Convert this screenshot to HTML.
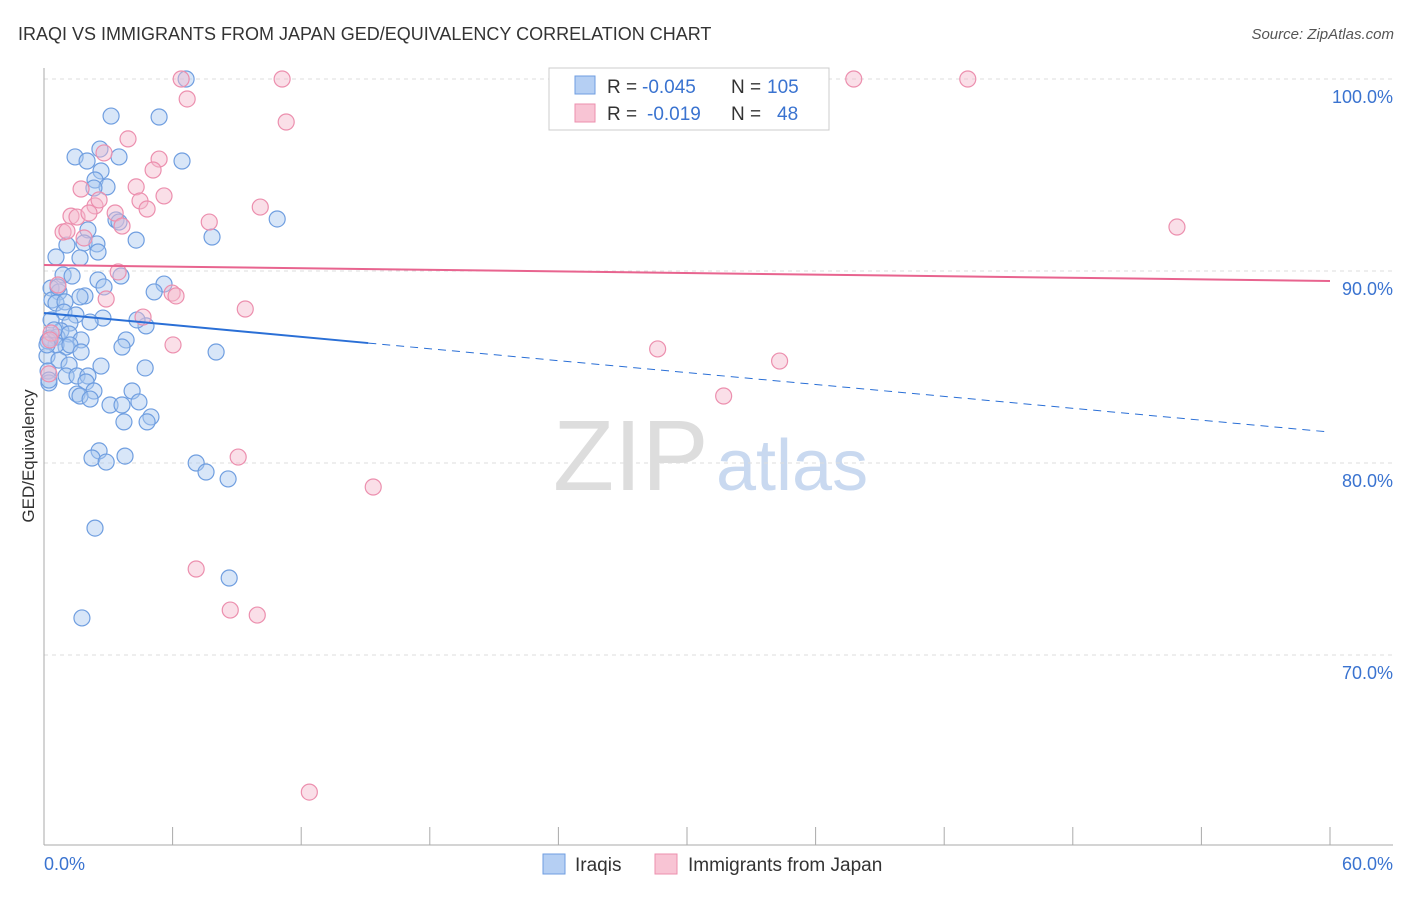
<!DOCTYPE html>
<html><head><meta charset="utf-8"><style>
body{margin:0;background:#fff;font-family:"Liberation Sans",sans-serif}
svg text{font-family:"Liberation Sans",sans-serif}
</style></head><body>
<svg id="c" width="1406" height="892" xmlns="http://www.w3.org/2000/svg">
<text x="18" y="40" font-size="18" fill="#333">IRAQI VS IMMIGRANTS FROM JAPAN GED/EQUIVALENCY CORRELATION CHART</text>
<text x="1394" y="39" font-size="15" fill="#555" font-style="italic" text-anchor="end">Source: ZipAtlas.com</text>
<text x="553" y="490" font-size="100" fill="#ddd" font-family="Liberation Serif">ZIP</text>
<text x="716" y="490" font-size="72" fill="#c9d9f0">atlas</text>
<text transform="translate(34,456) rotate(-90)" font-size="17" fill="#333" text-anchor="middle">GED/Equivalency</text>
<g id="grid"></g><g id="marks"></g>
<g>
<rect x="549" y="68" width="280" height="62" fill="#fff" stroke="#ccc"/>
<rect x="575" y="76" width="20" height="18" fill="#b5cff3" stroke="#6f9ee0"/>
<text x="607" y="93" font-size="19" fill="#333">R =</text>
<text x="642" y="93" font-size="19" fill="#3a73d0">-0.045</text>
<text x="731" y="93" font-size="19" fill="#333">N =</text>
<text x="767" y="93" font-size="19" fill="#3a73d0">105</text>
<rect x="575" y="104" width="20" height="18" fill="#f8c4d4" stroke="#ec8fae"/>
<text x="607" y="120" font-size="19" fill="#333">R =</text>
<text x="647" y="120" font-size="19" fill="#3a73d0">-0.019</text>
<text x="731" y="120" font-size="19" fill="#333">N =</text>
<text x="777" y="120" font-size="19" fill="#3a73d0">48</text>
</g>
<g>
<rect x="543" y="854" width="22" height="20" fill="#b5cff3" stroke="#6f9ee0"/>
<text x="575" y="871" font-size="19" fill="#333">Iraqis</text>
<rect x="655" y="854" width="22" height="20" fill="#f8c4d4" stroke="#ec8fae"/>
<text x="688" y="871" font-size="19" fill="#333">Immigrants from Japan</text>
</g>
</svg>
<script>
const blueX=[6.63,3.13,5.37,2.61,1.45,3.50,6.44,2.01,2.66,2.38,2.94,2.33,3.36,3.50,10.88,2.05,4.30,7.84,1.07,1.87,2.47,2.52,0.56,1.68,0.89,1.31,2.52,3.59,5.60,5.14,0.33,0.70,1.91,2.80,0.37,0.56,0.98,1.68,0.93,1.49,2.75,2.15,0.33,1.21,0.79,0.28,0.61,1.17,1.73,4.76,4.34,3.83,3.64,1.03,0.56,1.21,1.73,8.03,0.14,0.70,1.17,2.66,4.72,0.19,1.03,1.54,2.05,0.23,1.96,4.11,2.33,1.54,1.68,2.15,3.08,3.64,4.43,4.99,3.73,4.81,2.57,2.24,3.78,2.90,7.10,7.56,8.59,2.38,8.64,1.77,0.23,0.19,0.65,0.14,0.47];
const blueY=[100.0,98.07,98.02,96.35,95.94,95.94,95.73,95.73,95.21,94.74,94.38,94.32,92.66,92.55,92.71,92.14,91.61,91.77,91.35,91.46,91.41,90.99,90.73,90.68,89.79,89.74,89.53,89.74,89.32,88.91,89.11,88.91,88.70,89.17,88.49,88.33,88.39,88.65,87.86,87.71,87.55,87.34,87.45,87.29,86.88,86.51,86.56,86.72,86.41,87.14,87.45,86.41,86.04,86.04,86.15,86.15,85.78,85.78,85.57,85.36,85.10,85.05,84.95,84.79,84.53,84.53,84.53,84.17,84.22,83.75,83.75,83.59,83.49,83.33,83.02,83.02,83.18,82.40,82.14,82.14,80.63,80.26,80.36,80.05,80.00,79.53,79.17,76.61,74.01,71.93,84.32,86.35,89.17,86.15,86.93];
const pinkX=[6.40,11.11,37.78,43.10,6.68,11.30,3.92,2.80,5.37,5.09,1.73,4.30,5.60,2.38,2.57,4.48,4.81,1.26,1.54,2.10,3.32,3.64,7.71,10.09,52.86,0.89,1.07,1.87,3.46,0.65,2.90,5.98,6.16,9.39,4.62,6.02,28.63,34.32,31.71,9.06,15.36,7.10,8.69,9.95,12.38,0.33,0.28,0.23];
const pinkY=[100.0,100.0,100.0,100.0,98.96,97.76,96.88,96.15,95.83,95.26,94.27,94.38,93.91,93.39,93.70,93.65,93.23,92.86,92.81,93.02,93.02,92.34,92.55,93.33,92.29,92.03,92.08,91.72,89.95,89.27,88.54,88.85,88.70,88.02,87.60,86.15,85.94,85.31,83.49,80.31,78.75,74.48,72.34,72.08,62.86,86.77,86.41,84.64];
const yTicks=[100,90,80,70];
const yTickLabels=["100.0%","90.0%","80.0%","70.0%"];
const xTickLabels=["0.0%","60.0%"];
const blueTrend=[87.81,81.61];
const pinkTrend=[90.31,89.48];
const blueSolidEnd=15.13;
const NS="http://www.w3.org/2000/svg";
const sx=v=>44+v*1286/60, sy=v=>79+(100-v)*19.2;
function mk(t,a,p){const e=document.createElementNS(NS,t);for(const k in a)e.setAttribute(k,a[k]);p.appendChild(e);return e;}
const g=document.getElementById('grid'), m=document.getElementById('marks');
yTicks.forEach((t,i)=>{
 const l=mk('line',{x1:44,x2:1393,y1:sy(t),y2:sy(t),stroke:'#ddd','stroke-dasharray':'4,4'},g);
 
 
 const tx=mk('text',{x:1393,y:sy(t)+24,'font-size':18,fill:'#3a73d0','text-anchor':'end'},g);
 tx.textContent=yTickLabels[i];
 
 
});
mk('line',{x1:44,x2:44,y1:68,y2:845,stroke:'#aaa'},g);
mk('line',{x1:44,x2:1393,y1:845,y2:845,stroke:'#aaa'},g);
for(let i=0;i<=10;i++){const x=sx(i*6);const t=mk('line',{x1:x,x2:x,y1:827,y2:845,stroke:'#aaa'},g);
 
 }
[[0,'start',44],[1,'end',1393]].forEach(([i,a,x])=>{const t=mk('text',{x:x,y:870,'font-size':18,fill:'#3a73d0','text-anchor':a},g);t.textContent=xTickLabels[i];
 
 });
function pts(X,Y,f,s,n){X.forEach((x,i)=>{const c=mk('circle',{cx:sx(x),cy:sy(Y[i]),r:8,fill:f,'fill-opacity':0.45,stroke:s,'stroke-width':1.2},m);
 
 });}
pts(blueX,blueY,'#a9c8f0','#6f9ee0','iraqi-point');
pts(pinkX,pinkY,'#f5b8cb','#ec8fae','japan-point');
const bAt=x=>blueTrend[0]+(blueTrend[1]-blueTrend[0])*x/60;
const b1=mk('line',{x1:sx(0),y1:sy(bAt(0)),x2:sx(blueSolidEnd),y2:sy(bAt(blueSolidEnd)),stroke:'#2a6fd6','stroke-width':2},m);


const b2=mk('line',{x1:sx(blueSolidEnd),y1:sy(bAt(blueSolidEnd)),x2:sx(60),y2:sy(bAt(60)),stroke:'#2a6fd6','stroke-width':1,'stroke-dasharray':'8,6'},m);


const p1=mk('line',{x1:sx(0),y1:sy(pinkTrend[0]),x2:sx(60),y2:sy(pinkTrend[1]),stroke:'#e8648f','stroke-width':2},m);


</script>
</body></html>
